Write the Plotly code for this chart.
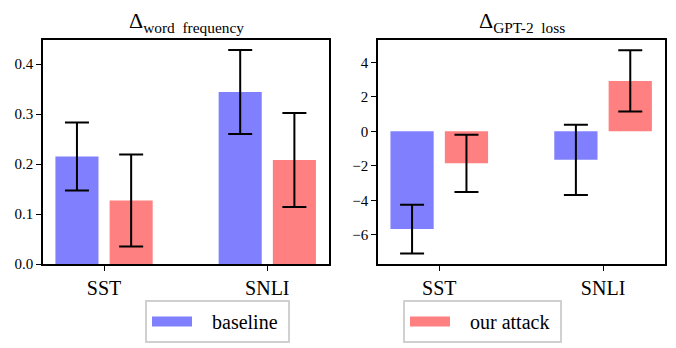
import plotly.graph_objects as go
from plotly.subplots import make_subplots

categories = ["SST", "SNLI"]

wf_baseline = [0.215, 0.344]
wf_baseline_err = [0.068, 0.084]
wf_attack = [0.127, 0.208]
wf_attack_err = [0.092, 0.094]

gpt_baseline = [-5.66, -1.65]
gpt_baseline_err = [1.41, 2.04]
gpt_attack = [-1.85, 2.92]
gpt_attack_err = [1.66, 1.77]

left_ticks = [0.0, 0.1, 0.2, 0.3, 0.4]
right_ticks = [-6, -4, -2, 0, 2, 4]

series_names = ["baseline", "our attack"]

BLUE = "#8080ff"
RED = "#ff8080"
FONT = "Liberation Serif"
PAD = "\u00a0\u00a0\u00a0"

fig = make_subplots(rows=1, cols=2)

def err(vals):
    return dict(type="data", array=vals, visible=True, color="black", thickness=2, width=12)

fig.add_trace(go.Bar(x=categories, y=wf_baseline, error_y=err(wf_baseline_err),
                     marker=dict(color=BLUE, line=dict(width=0)), name=series_names[0],
                     showlegend=False), row=1, col=1)
fig.add_trace(go.Bar(x=categories, y=wf_attack, error_y=err(wf_attack_err),
                     marker=dict(color=RED, line=dict(width=0)), name=series_names[1],
                     showlegend=False), row=1, col=1)
fig.add_trace(go.Bar(x=categories, y=gpt_baseline, error_y=err(gpt_baseline_err),
                     marker=dict(color=BLUE, line=dict(width=0)), name=series_names[0],
                     showlegend=False), row=1, col=2)
fig.add_trace(go.Bar(x=categories, y=gpt_attack, error_y=err(gpt_attack_err),
                     marker=dict(color=RED, line=dict(width=0)), name=series_names[1],
                     showlegend=False), row=1, col=2)

# legend entries (wide rectangular swatches like the reference)
fig.add_trace(go.Scatter(x=[None], y=[None], mode="lines", line=dict(color=BLUE, width=13),
                         name=PAD + series_names[0] + "\u00a0", legend="legend",
                         showlegend=True), row=1, col=1)
fig.add_trace(go.Scatter(x=[None], y=[None], mode="lines", line=dict(color=RED, width=13),
                         name=PAD + series_names[1] + "\u00a0", legend="legend2",
                         showlegend=True), row=1, col=2)

W, H = 676, 348
ytop = 1 - 40 / H
ybot = 1 - 264 / H

axis_common = dict(showline=True, linecolor="black", linewidth=1.5, mirror=True,
                   showgrid=False, zeroline=False, ticks="outside", ticklen=5,
                   tickcolor="black", tickwidth=1.2, automargin=False)

leg_common = dict(yanchor="top", xanchor="left", bordercolor="#d0d0d0", borderwidth=2,
                  bgcolor="white", itemwidth=40, font=dict(size=20, family=FONT))

fig.update_layout(
    width=W, height=H,
    margin=dict(l=0, r=0, t=0, b=0),
    paper_bgcolor="white", plot_bgcolor="white",
    font=dict(family=FONT, color="black"),
    barmode="group", bargap=0.336, bargroupgap=0.205,
    xaxis=dict(domain=[43 / W, 329 / W], range=[-0.374, 1.378],
               tickfont=dict(size=20, family=FONT), **axis_common),
    xaxis2=dict(domain=[378 / W, 665 / W], range=[-0.374, 1.378],
                tickfont=dict(size=20, family=FONT), **axis_common),
    yaxis=dict(domain=[ybot, ytop], range=[0, 0.448], tickvals=left_ticks,
               tickformat=".1f", tickfont=dict(size=15, family=FONT), **axis_common),
    yaxis2=dict(domain=[ybot, ytop], range=[-7.68, 5.29], tickvals=right_ticks,
                tickfont=dict(size=15, family=FONT), **axis_common),
    legend=dict(x=145 / W, y=1 - 300 / H, **leg_common),
    legend2=dict(x=403 / W, y=1 - 300 / H, **leg_common),
    annotations=[
        dict(text="Δ<sub>word  frequency</sub>", x=186 / W, y=1 - 22 / H,
             xref="paper", yref="paper", showarrow=False, xanchor="center", yanchor="middle",
             font=dict(size=22, family=FONT)),
        dict(text="Δ<sub>GPT-2  loss</sub>", x=521.5 / W, y=1 - 22 / H,
             xref="paper", yref="paper", showarrow=False, xanchor="center", yanchor="middle",
             font=dict(size=22, family=FONT)),
    ],
)

fig.write_html("out.html", config={"displayModeBar": False},
               post_script="document.body.style.margin='0';document.body.style.overflow='hidden';")
